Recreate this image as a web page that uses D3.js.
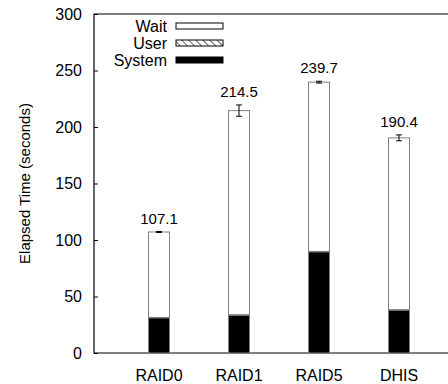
<!DOCTYPE html>
<html>
<head>
<meta charset="utf-8">
<script src="https://cdn.jsdelivr.net/npm/d3@7"></script>
<style>
  body { margin: 0; background: #fff; }
  text { font-family: "Liberation Sans", Arial, Helvetica, sans-serif; }
</style>
</head>
<body>
<div id="chart"></div>
<script>
const categories = ["RAID0", "RAID1", "RAID5", "DHIS"];
const systemTime = [31.0, 33.3, 89.4, 37.8];
const userTime = [0.5, 0.5, 0.5, 0.5];
const totalTime = [107.1, 214.5, 239.7, 190.4];
const errorTime = [0.4, 5.0, 0.8, 2.6];
const yTicks = [0, 50, 100, 150, 200, 250, 300];
const seriesNames = ["Wait", "User", "System"];

const width = 448, height = 384;
const margin = {left: 94, top: 14, bottom: 31};

const svg = d3.select("#chart")
  .append("svg")
  .attr("width", width)
  .attr("height", height);

// hatch pattern for the User series
const defs = svg.append("defs");
defs.append("pattern")
  .attr("id", "hatch")
  .attr("patternUnits", "userSpaceOnUse")
  .attr("width", 5)
  .attr("height", 5)
  .attr("patternTransform", "rotate(-45)")
  .append("line")
  .attr("x1", 0).attr("y1", 0)
  .attr("x2", 0).attr("y2", 5)
  .attr("stroke", "#000")
  .attr("stroke-width", 1.2);

const y = d3.scaleLinear()
  .domain([0, 300])
  .range([height - margin.bottom, margin.top]);

const x = d3.scaleBand()
  .domain(categories)
  .range([119, 439]);

const barW = 21;

// frame: left, top, bottom (right side runs off the picture)
svg.append("path")
  .attr("d", `M${width},${y(300)}H${margin.left}V${y(0)}H${width}`)
  .attr("fill", "none")
  .attr("stroke", "#000")
  .attr("stroke-width", 1.2);

// y axis ticks (inward) and labels
const yAxis = d3.axisLeft(y)
  .tickValues(yTicks)
  .tickSize(-4)
  .tickPadding(12);

svg.append("g")
  .attr("transform", `translate(${margin.left},0)`)
  .call(yAxis)
  .call(g => g.select(".domain").remove())
  .call(g => g.selectAll("text")
    .attr("font-size", 16)
    .attr("fill", "#000")
    .style("font-family", "Liberation Sans, Arial, sans-serif"));

svg.append("text")
  .attr("transform", `translate(30,${(y(0) + y(300)) / 2}) rotate(-90)`)
  .attr("text-anchor", "middle")
  .attr("font-size", 15)
  .text("Elapsed Time (seconds)");

// x labels
svg.append("g")
  .selectAll("text")
  .data(categories)
  .join("text")
  .attr("x", d => x(d) + x.bandwidth() / 2)
  .attr("y", 381)
  .attr("text-anchor", "middle")
  .attr("font-size", 16)
  .text(d => d);

const rows = categories.map((c, i) => ({
  cat: c,
  system: systemTime[i],
  user: userTime[i],
  total: totalTime[i],
  err: errorTime[i]
}));

const bars = svg.append("g")
  .selectAll("g")
  .data(rows)
  .join("g")
  .attr("transform", d => `translate(${x(d.cat) + x.bandwidth() / 2 - barW / 2},0)`);

// Wait (white), from top of user to total
bars.append("rect")
  .attr("x", 0)
  .attr("width", barW)
  .attr("y", d => y(d.total))
  .attr("height", d => y(d.system + d.user) - y(d.total))
  .attr("fill", "#fff")
  .attr("stroke", "#808080")
  .attr("stroke-width", 1);

// User (hatched)
bars.append("rect")
  .attr("x", 0)
  .attr("width", barW)
  .attr("y", d => y(d.system + d.user))
  .attr("height", d => y(d.system) - y(d.system + d.user))
  .attr("fill", "url(#hatch)")
  .attr("stroke", "#808080")
  .attr("stroke-width", 0.6);

// System (black)
bars.append("rect")
  .attr("x", 0)
  .attr("width", barW)
  .attr("y", d => y(d.system))
  .attr("height", d => y(0) - y(d.system))
  .attr("fill", "#000")
  .attr("stroke", "#808080")
  .attr("stroke-width", 1);

// error bars
const cx = barW / 2;
bars.append("path")
  .attr("d", d => {
    const t = y(d.total + d.err), b = y(d.total - d.err);
    return `M${cx},${t}V${b}M${cx - 3},${t}H${cx + 3}M${cx - 3},${b}H${cx + 3}`;
  })
  .attr("fill", "none")
  .attr("stroke", "#000")
  .attr("stroke-width", 1);

// value labels
bars.append("text")
  .attr("x", cx)
  .attr("y", d => y(d.total + d.err) - 8)
  .attr("text-anchor", "middle")
  .attr("font-size", 15)
  .text(d => d3.format(".1f")(d.total));

// legend
const legend = svg.append("g")
  .selectAll("g")
  .data(seriesNames)
  .join("g")
  .attr("transform", (d, i) => `translate(0,${26 + i * 17})`);

legend.append("text")
  .attr("x", 167)
  .attr("y", 5.5)
  .attr("text-anchor", "end")
  .attr("font-size", 16)
  .text(d => d);

legend.append("rect")
  .attr("x", 176)
  .attr("y", -3)
  .attr("width", 47)
  .attr("height", 6)
  .attr("fill", d => d === "Wait" ? "#fff" : d === "User" ? "url(#hatch)" : "#000")
  .attr("stroke", "#000")
  .attr("stroke-width", 1);
</script>
</body>
</html>
